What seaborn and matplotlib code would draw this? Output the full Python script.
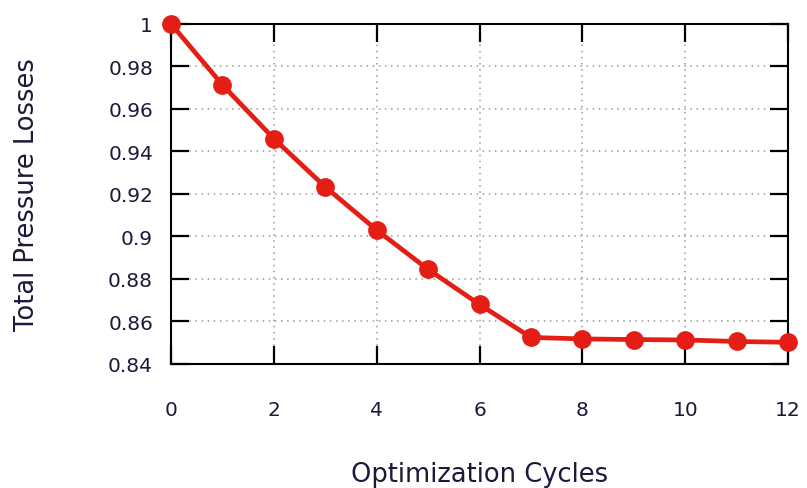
import pandas as pd
from matplotlib import pyplot as plt
import seaborn as sns

# Datos
ciclos = [0, 1, 2, 3, 4, 5, 6, 7, 8, 9, 10, 11, 12]
perdidas = [1.0, 0.9713, 0.9460, 0.9233, 0.9030, 0.8845, 0.8680, 0.8525, 0.8518,
            0.8515, 0.8513, 0.8506, 0.8502]
x_ticks = [0, 2, 4, 6, 8, 10, 12]
y_ticks = [0.84, 0.86, 0.88, 0.90, 0.92, 0.94, 0.96, 0.98, 1.0]
y_labels = ["0.84", "0.86", "0.88", "0.9", "0.92", "0.94", "0.96", "0.98", "1"]

df = pd.DataFrame({"ciclo": ciclos, "perdida": perdidas})

sns.set_style("white")
plt.rcParams['font.family'] = ['DejaVu Sans']

fig = plt.figure(figsize=(8.07, 4.89), dpi=100)
ax = fig.add_axes([0.212, 0.2536, 0.7645, 0.6954])

sns.lineplot(x="ciclo", y="perdida", data=df, ax=ax, color="#e41e14",
             linewidth=3.4, marker="o", markersize=13.5, markeredgewidth=0,
             clip_on=False, zorder=5)

ax.set_xlim(0, 12)
ax.set_ylim(0.84, 1.0)
ax.set_xticks(x_ticks)
ax.set_yticks(y_ticks)
ax.set_yticklabels(y_labels)

# Rejilla punteada estilo gnuplot
ax.grid(True, color="#999999", linestyle=(0, (1, 3)), linewidth=1.1)

for s in ax.spines.values():
    s.set_color("black")
    s.set_linewidth(1.5)

ax.tick_params(axis="both", which="major", direction="in", length=13, width=1.6,
               color="black", bottom=True, left=True, top=True, right=True,
               labelsize=14.5, labelcolor="#1a1a3a")
ax.tick_params(axis="x", pad=26)
ax.tick_params(axis="y", pad=13)

ax.set_xlabel("Optimization Cycles", fontsize=18.5, color="#1a1a3a", labelpad=30)
ax.set_ylabel("Total Pressure Losses", fontsize=18.5, color="#1a1a3a", labelpad=49)

fig.savefig("out.png", dpi=100)
